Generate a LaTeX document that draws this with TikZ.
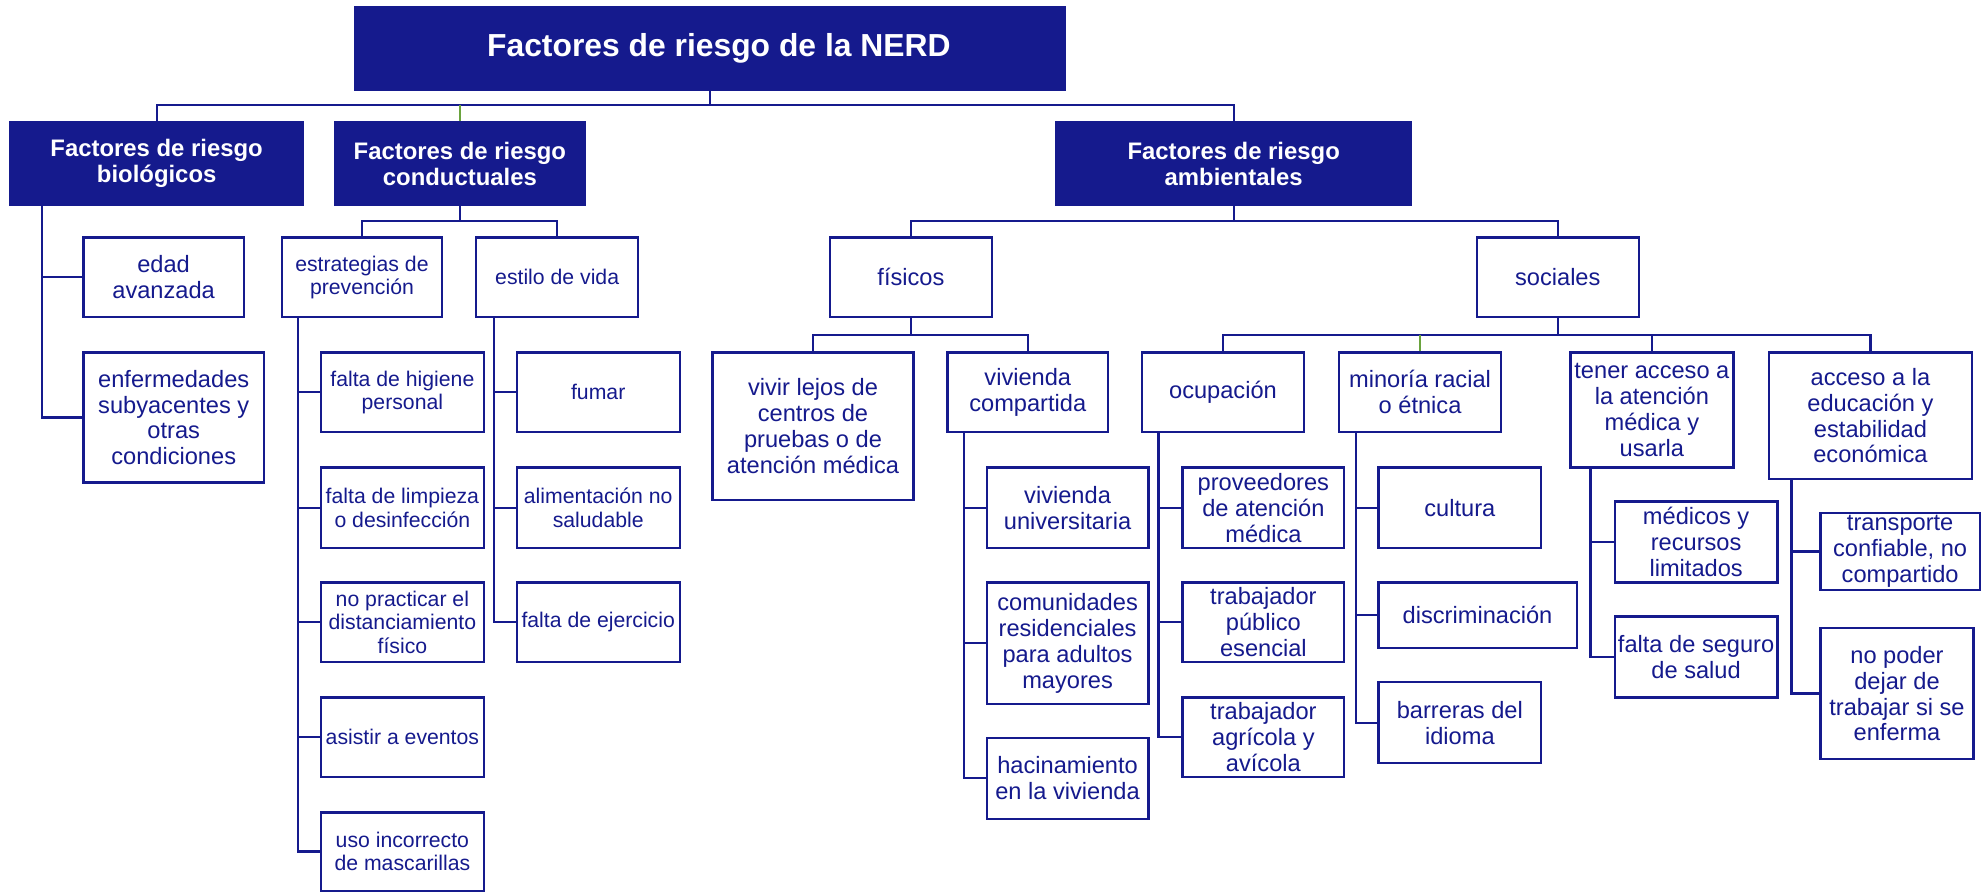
\documentclass[tikz,border=0pt]{standalone}
\usepackage{fontspec}
\setmainfont{Liberation Sans}
\definecolor{navy}{HTML}{151A8D}
\definecolor{lgreen}{HTML}{6AA33E}
\tikzset{
 box/.style={draw=navy, line width=1.8pt, inner sep=0pt, align=center, text=navy, fill=white, font=\fontsize{18.7}{20.5}\selectfont},
 sbox/.style={box, font=\fontsize{16.8}{18.5}\selectfont},
 hbox/.style={box, fill=navy, text=white, font=\bfseries\fontsize{18.9}{20.5}\selectfont},
 tbox/.style={hbox, font=\bfseries\fontsize{25.2}{28}\selectfont},
 conn/.style={draw=navy, line width=1.8pt},
 gconn/.style={draw=lgreen, line width=1.2pt},
}
\newcommand\bx[7]{\node[#1, minimum width={#5-#3}, minimum height={#6-#4}] (#2) at ({(#3+#5)/2},{-(#4+#6)/2}) {#7};}
\begin{document}
\begin{tikzpicture}[x=1pt,y=1pt]
\useasboundingbox (0,0) rectangle (1568,-706);
% bus / stem coordinates
\coordinate (b0) at (0,-83);
\coordinate (b1) at (0,-175);
\coordinate (b3) at (0,-265);
\coordinate (sBio) at (33,0);
\coordinate (sEstr) at (236,0);
\coordinate (sEst) at (391,0);
\coordinate (sViv) at (763,0);
\coordinate (sOcu) at (917,0);
\coordinate (sMin) at (1073,0);
\coordinate (sTen) at (1259,0);
\coordinate (sAcc) at (1418,0);

% level 0/1
\bx{tbox}{title}{281}{6}{843}{71}{\hspace*{14pt}Factores de riesgo de la NERD}
\bx{hbox}{bio}{8}{97}{240}{162}{Factores de riesgo\\biológicos}
\bx{hbox}{cond}{265}{97}{463}{162}{Factores de riesgo\\conductuales}
\bx{hbox}{amb}{836}{97}{1117}{162}{Factores de riesgo\\ambientales}

% biological
\bx{box}{edad}{66}{188}{193}{251}{edad\\avanzada}
\bx{box}{enf}{66}{279}{209}{382}{enfermedades\\subyacentes y\\otras\\condiciones}

% behavioural
\bx{sbox}{estr}{223}{188}{350}{251}{estrategias de\\prevención}
\bx{sbox}{estilo}{377}{188}{505}{251}{estilo de vida}
\bx{sbox}{hig}{254}{279}{383}{342}{falta de higiene\\personal}
\bx{sbox}{limp}{254}{370}{383}{434}{falta de limpieza\\o desinfección}
\bx{sbox}{dist}{254}{461}{383}{524}{no practicar el\\distanciamiento\\físico}
\bx{sbox}{asis}{254}{552}{383}{615}{asistir a eventos}
\bx{sbox}{masc}{254}{643}{383}{705}{uso incorrecto\\de mascarillas}
\bx{sbox}{fum}{409}{279}{538}{342}{fumar}
\bx{sbox}{alim}{409}{370}{538}{434}{alimentación no\\saludable}
\bx{sbox}{ejer}{409}{461}{538}{524}{falta de ejercicio}

% environmental
\bx{box}{fis}{657}{188}{785}{251}{físicos}
\bx{box}{soc}{1169}{188}{1297}{251}{sociales}
\bx{box}{vivir}{564}{279}{723}{396}{vivir lejos de\\centros de\\pruebas o de\\atención médica}
\bx{box}{vivc}{750}{279}{877}{342}{vivienda\\compartida}
\bx{box}{univ}{781}{370}{909}{434}{vivienda\\universitaria}
\bx{box}{comu}{781}{461}{909}{557}{comunidades\\residenciales\\para adultos\\mayores}
\bx{box}{haci}{781}{584}{909}{648}{hacinamiento\\en la vivienda}
\bx{box}{ocup}{904}{279}{1032}{342}{ocupación}
\bx{box}{prov}{936}{370}{1064}{434}{proveedores\\de atención\\médica}
\bx{box}{pub}{936}{461}{1064}{524}{trabajador\\público\\esencial}
\bx{box}{agr}{936}{552}{1064}{615}{trabajador\\agrícola y\\avícola}
\bx{box}{mino}{1060}{279}{1188}{342}{minoría racial\\o étnica}
\bx{box}{cult}{1091}{370}{1220}{434}{cultura}
\bx{box}{disc}{1091}{461}{1248}{513}{discriminación}
\bx{box}{barr}{1091}{540}{1220}{604}{barreras del\\idioma}
\bx{box}{ten}{1243}{279}{1372}{370}{tener acceso a\\la atención\\médica y\\usarla}
\bx{box}{med}{1278}{397}{1407}{461}{médicos y\\recursos\\limitados}
\bx{box}{seg}{1278}{488}{1407}{552}{falta de seguro\\de salud}
\bx{box}{acc}{1400}{279}{1561}{379}{acceso a la\\educación y\\estabilidad\\económica}
\bx{box}{trans}{1441}{406}{1567}{467}{transporte\\confiable, no\\compartido}
\bx{box}{npod}{1441}{497}{1562}{601}{no poder\\dejar de\\trabajar si se\\enferma}

% connectors level 0 -> 1
\draw[conn] (title.south) -- (title.south |- b0);
\draw[conn] (bio.north) |- (amb.north |- b0) -- (amb.north);
\draw[gconn] (cond.north |- b0) -- (cond.north);

% biological
\draw[conn] (bio.south -| sBio) |- (edad.west);
\draw[conn] (bio.south -| sBio) |- (enf.west);

% behavioural
\draw[conn] (cond.south) -- (cond.south |- b1);
\draw[conn] (estr.north) |- (estilo.north |- b1) -- (estilo.north);
\foreach \c in {hig,limp,dist,asis,masc}
  \draw[conn] (estr.south -| sEstr) |- (\c.west);
\foreach \c in {fum,alim,ejer}
  \draw[conn] (estilo.south -| sEst) |- (\c.west);

% environmental
\draw[conn] (amb.south) -- (amb.south |- b1);
\draw[conn] (fis.north) |- (soc.north |- b1) -- (soc.north);
\draw[conn] (fis.south) -- (fis.south |- b3);
\draw[conn] (vivir.north) |- (vivc.north |- b3) -- (vivc.north);
\foreach \c in {univ,comu,haci}
  \draw[conn] (vivc.south -| sViv) |- (\c.west);
\draw[conn] (soc.south) -- (soc.south |- b3);
\draw[conn] (ocup.north) |- (acc.north |- b3) -- (acc.north);
\draw[conn] (ten.north |- b3) -- (ten.north);
\draw[gconn] (mino.north |- b3) -- (mino.north);
\foreach \c in {prov,pub,agr}
  \draw[conn] (ocup.south -| sOcu) |- (\c.west);
\foreach \c in {cult,disc,barr}
  \draw[conn] (mino.south -| sMin) |- (\c.west);
\foreach \c in {med,seg}
  \draw[conn] (ten.south -| sTen) |- (\c.west);
\foreach \c in {trans,npod}
  \draw[conn] (acc.south -| sAcc) |- (\c.west);
\end{tikzpicture}
\end{document}
